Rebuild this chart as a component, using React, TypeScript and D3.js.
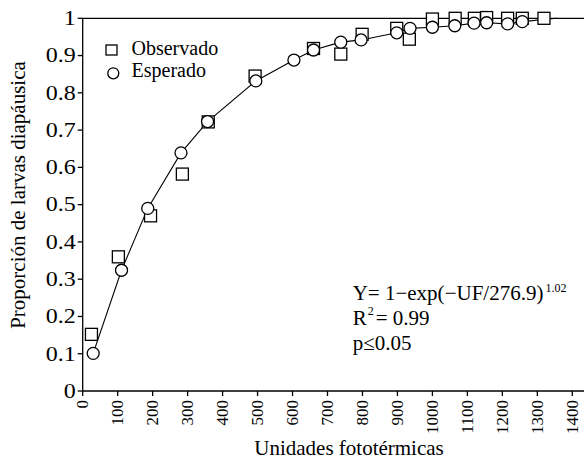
import React from 'react';
import * as d3 from 'd3';

// observed proportions (squares)
const obsUF = [25, 102, 194, 285, 359, 493, 660, 738, 799, 898, 934, 1000, 1065, 1120, 1155, 1215, 1257, 1319];
const obsP = [0.152, 0.36, 0.47, 0.582, 0.722, 0.845, 0.919, 0.904, 0.957, 0.973, 0.944, 0.998, 1.0, 1.0, 1.002, 1.0, 1.0, 1.0];

// expected proportions from the fitted model (circles)
const expUF = [30, 111, 186, 281, 357, 495, 604, 660, 738, 796, 898, 936, 1000, 1064, 1119, 1155, 1215, 1257];
const expP = [0.101, 0.324, 0.49, 0.639, 0.723, 0.832, 0.888, 0.915, 0.936, 0.942, 0.961, 0.973, 0.976, 0.98, 0.987, 0.988, 0.985, 0.991];

// fitted line keeps going a little past the last marker
const lineEnd = { uf: 1355, p: 1.0 };

const xTicks = d3.range(0, 1401, 100);
const yTicks = d3.range(0, 11).map(i => i / 10);

const FONT = '"Liberation Serif"';

type Pt = { uf: number; p: number };

export default function App() {
  const width = 584;
  const height = 459;

  const x = d3.scaleLinear().domain([0, 1400]).range([82.7, 572.3]);
  const y = d3.scaleLinear().domain([0, 1]).range([391, 18.3]);
  const fmtY = d3.format('.1~f');

  const observed: Pt[] = obsUF.map((uf, i) => ({ uf, p: obsP[i] }));
  const expected: Pt[] = expUF.map((uf, i) => ({ uf, p: expP[i] }));

  const line = d3.line<Pt>().x(d => x(d.uf)).y(d => y(d.p));

  const x0 = x(0);
  const y0 = y(0);

  return (
    <svg width={width} height={height}
      style={{ position: 'absolute', left: 0, top: 0, background: '#fff', fontFamily: FONT }}>
      {/* x ticks */}
      {xTicks.map(t => (
        <g key={'x' + t} transform={`translate(${x(t)}, ${y0})`}>
          <line y2={5} stroke="#000" strokeWidth={1.3} />
          <text transform="rotate(-90)" x={-9} dy="0.34em" textAnchor="end" fontSize={17}>{t}</text>
        </g>
      ))}

      {/* y ticks */}
      {yTicks.map(t => (
        <g key={'y' + t} transform={`translate(${x0}, ${y(t)})`}>
          <line x2={-5} stroke="#000" strokeWidth={1.3} />
          <text transform="translate(-7, 0) scale(1.2, 1)" dy="0.34em" textAnchor="end" fontSize={20}>{fmtY(t)}</text>
        </g>
      ))}

      {/* left axis, bottom axis and the line at 1, running to the edge */}
      <path d={`M${width},${y(1)}H${x0}V${y0}H${width}`} fill="none" stroke="#000" strokeWidth={1.3} />

      {/* fitted line */}
      <path d={line([...expected, lineEnd]) ?? ''} fill="none" stroke="#000" strokeWidth={1.1} />

      {observed.map((d, i) => (
        <rect key={'o' + i} x={x(d.uf) - 6} y={y(d.p) - 6} width={12} height={12}
          fill="#fff" stroke="#000" strokeWidth={1.3} />
      ))}
      {expected.map((d, i) => (
        <circle key={'e' + i} cx={x(d.uf)} cy={y(d.p)} r={6}
          fill="#fff" stroke="#000" strokeWidth={1.3} />
      ))}

      {/* legend */}
      <g fontSize={20}>
        <rect x={106} y={45} width={11} height={10} fill="#fff" stroke="#000" strokeWidth={1.3} />
        <text x={131.5} y={55}>Observado</text>
        <circle cx={113.3} cy={73.3} r={5.5} fill="#fff" stroke="#000" strokeWidth={1.3} />
        <text x={131.5} y={77}>Esperado</text>
      </g>

      {/* model annotation */}
      <g fontSize={21}>
        <text x={352.7} y={300}>
          <tspan>Y= 1{'\u2212'}exp({'\u2212'}UF/276.9)</tspan>
          <tspan fontSize={12} dx={2} dy={-8}>1.02</tspan>
        </text>
        <text x={352.7} y={325}>
          <tspan>R</tspan>
          <tspan fontSize={12} dx={1} dy={-10}>2</tspan>
          <tspan dx={2} dy={10}>= 0.99</tspan>
        </text>
        <text x={352.7} y={350}>p{'\u2264'}0.05</text>
      </g>

      {/* axis titles */}
      <text x={349} y={455} textAnchor="middle" fontSize={21}>Unidades fototérmicas</text>
      <text transform="translate(25, 195) rotate(-90)" textAnchor="middle" fontSize={21}>
        Proporción de larvas diapáusica
      </text>
    </svg>
  );
}
